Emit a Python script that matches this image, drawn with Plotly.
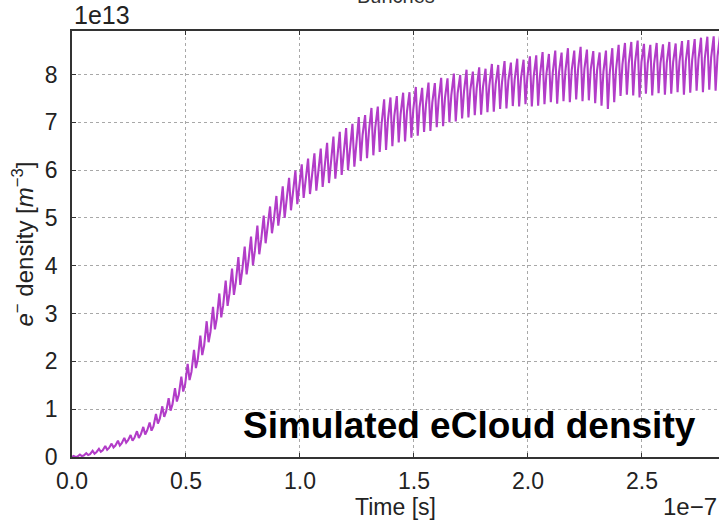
import plotly.graph_objects as go

# Electron-cloud build-up over a bunch train.
# Time in units of 1e-7 s, density in units of 1e13 m^-3.
BUNCH_SPACING = 0.0278          # time between bunch passages (1e-7 s)
START_DENSITY = 0.0             # density at t = 0

# Per-bunch extremes: spike maximum, following minimum, and the level between bunches
peak_density = [
    0.02, 0.05, 0.08, 0.13, 0.17, 0.23, 0.28, 0.34, 0.40, 0.46,
    0.54, 0.63, 0.72, 0.90, 1.06, 1.23, 1.44, 1.68, 1.95, 2.24,
    2.54, 2.84, 3.14, 3.42, 3.69, 3.94, 4.18, 4.40, 4.61, 4.84,
    5.05, 5.24, 5.46, 5.66, 5.84, 5.99, 6.12, 6.24, 6.35, 6.45,
    6.57, 6.70, 6.80, 6.88, 6.97, 7.11, 7.15, 7.30, 7.33, 7.48,
    7.52, 7.55, 7.62, 7.63, 7.74, 7.72, 7.83, 7.82, 7.93, 7.92,
    8.02, 7.99, 8.10, 8.06, 8.15, 8.12, 8.22, 8.20, 8.28, 8.25,
    8.33, 8.31, 8.38, 8.40, 8.47, 8.43, 8.50, 8.46, 8.55, 8.50,
    8.58, 8.52, 8.49, 8.46, 8.50, 8.55, 8.62, 8.66, 8.68, 8.71,
    8.64, 8.62, 8.66, 8.63, 8.68, 8.65, 8.70, 8.72, 8.74, 8.77,
    8.79, 8.80, 8.82,
]
trough_density = [
    0.00, 0.02, 0.04, 0.07, 0.11, 0.15, 0.20, 0.24, 0.30, 0.34,
    0.40, 0.47, 0.55, 0.70, 0.84, 0.97, 1.16, 1.37, 1.61, 1.86,
    2.13, 2.40, 2.67, 2.92, 3.16, 3.39, 3.60, 3.82, 4.01, 4.24,
    4.47, 4.68, 4.84, 5.00, 5.16, 5.29, 5.42, 5.50, 5.57, 5.65,
    5.73, 5.82, 5.90, 6.00, 6.07, 6.19, 6.25, 6.31, 6.38, 6.42,
    6.50, 6.58, 6.60, 6.68, 6.72, 6.80, 6.82, 6.90, 6.92, 7.00,
    7.02, 7.08, 7.10, 7.15, 7.16, 7.21, 7.22, 7.28, 7.29, 7.34,
    7.33, 7.38, 7.33, 7.35, 7.38, 7.42, 7.39, 7.44, 7.42, 7.48,
    7.44, 7.46, 7.40, 7.35, 7.28, 7.42, 7.55, 7.58, 7.56, 7.52,
    7.60, 7.56, 7.61, 7.58, 7.60, 7.63, 7.58, 7.62, 7.66, 7.63,
    7.68, 7.66, 7.70,
]
between_density = [
    0.01, 0.03, 0.06, 0.10, 0.14, 0.19, 0.24, 0.29, 0.35, 0.40,
    0.47, 0.55, 0.64, 0.80, 0.95, 1.10, 1.30, 1.52, 1.78, 2.05,
    2.33, 2.62, 2.90, 3.17, 3.42, 3.66, 3.89, 4.11, 4.31, 4.54,
    4.76, 4.96, 5.15, 5.33, 5.50, 5.64, 5.77, 5.87, 5.96, 6.05,
    6.15, 6.26, 6.35, 6.44, 6.52, 6.74, 6.81, 6.89, 6.97, 7.05,
    7.13, 7.17, 7.22, 7.27, 7.32, 7.37, 7.41, 7.47, 7.51, 7.57,
    7.61, 7.64, 7.68, 7.71, 7.74, 7.77, 7.80, 7.84, 7.87, 7.90,
    7.93, 7.95, 7.96, 7.99, 8.01, 8.03, 8.05, 8.07, 8.09, 8.11,
    8.12, 8.11, 8.09, 8.06, 8.04, 8.11, 8.21, 8.24, 8.26, 8.26,
    8.24, 8.23, 8.24, 8.25, 8.26, 8.27, 8.28, 8.30, 8.32, 8.34,
    8.36, 8.38, 8.39,
]

x_ticks = [0.0, 0.5, 1.0, 1.5, 2.0, 2.5]
y_ticks = [0, 1, 2, 3, 4, 5, 6, 7, 8]

# Assemble the time series: spike, dip, then the level held until the next bunch
t = [0.0]
n = [START_DENSITY]
for k in range(len(peak_density)):
    t0 = k * BUNCH_SPACING
    t += [t0 + 0.25 * BUNCH_SPACING, t0 + 0.55 * BUNCH_SPACING, t0 + 0.85 * BUNCH_SPACING]
    n += [peak_density[k], trough_density[k], between_density[k]]

FONT = "Liberation Sans, Arial, sans-serif"
AXIS_COLOR = "#333333"
TEXT_COLOR = "#222222"

fig = go.Figure()
fig.add_trace(go.Scatter(
    x=t, y=n, mode="lines",
    line=dict(color="#b23cc8", width=2.1),
    showlegend=False,
))

fig.update_layout(
    width=719, height=521,
    margin=dict(l=72, r=0, t=31, b=64),
    paper_bgcolor="white", plot_bgcolor="white",
    font=dict(family=FONT, size=22, color=TEXT_COLOR),
)

fig.update_xaxes(
    range=[0, 2.838],
    tickvals=x_ticks, ticktext=[f"{v:.1f}" for v in x_ticks],
    showgrid=True, gridcolor="#a8a8a8", griddash="dot", gridwidth=1,
    zeroline=False,
    showline=True, linecolor=AXIS_COLOR, linewidth=1.5, mirror="ticks",
    ticks="inside", ticklen=4, tickcolor=AXIS_COLOR,
    tickfont=dict(size=23, family=FONT, color=TEXT_COLOR),
    ticklabelstandoff=3,
    title=dict(text="Time [s]", font=dict(size=23, family=FONT), standoff=3),
)
fig.update_yaxes(
    range=[0, 8.91],
    tickvals=y_ticks, ticktext=[str(v) for v in y_ticks],
    showgrid=True, gridcolor="#a8a8a8", griddash="dot", gridwidth=1,
    zeroline=False,
    showline=True, linecolor=AXIS_COLOR, linewidth=1.5, mirror=False,
    ticks="inside", ticklen=4, tickcolor=AXIS_COLOR,
    tickfont=dict(size=23, family=FONT, color=TEXT_COLOR),
    ticklabelstandoff=8,
    title=dict(
        text="<i>e</i><sup>−</sup> density [<i>m</i><sup>−3</sup>]",
        font=dict(size=24, family=FONT), standoff=4,
    ),
)

# Scale factors of the axes (offset labels)
fig.add_annotation(
    text="1e13", xref="paper", yref="paper", x=0, y=1,
    xanchor="left", yanchor="bottom", yshift=0, showarrow=False,
    font=dict(size=25, family=FONT, color=TEXT_COLOR),
)
fig.add_annotation(
    text="1e−7", xref="paper", yref="paper", x=1, y=0,
    xanchor="right", yanchor="top", yshift=-34, showarrow=False,
    font=dict(size=24, family=FONT, color=TEXT_COLOR),
)

# Panel title (upper edge of the page)
fig.add_annotation(
    text="Bunches", xref="paper", yref="paper", x=0.50, y=1,
    xanchor="center", yanchor="bottom", yshift=22, showarrow=False,
    font=dict(size=20, family=FONT, color="#333333"),
)

# Caption inside the plot
fig.add_annotation(
    text="<b>Simulated eCloud density</b>", xref="paper", yref="paper",
    x=0.615, y=0.075, xanchor="center", yanchor="middle", showarrow=False,
    font=dict(size=37, family=FONT, color="black"),
)

fig.write_html("out.html")
